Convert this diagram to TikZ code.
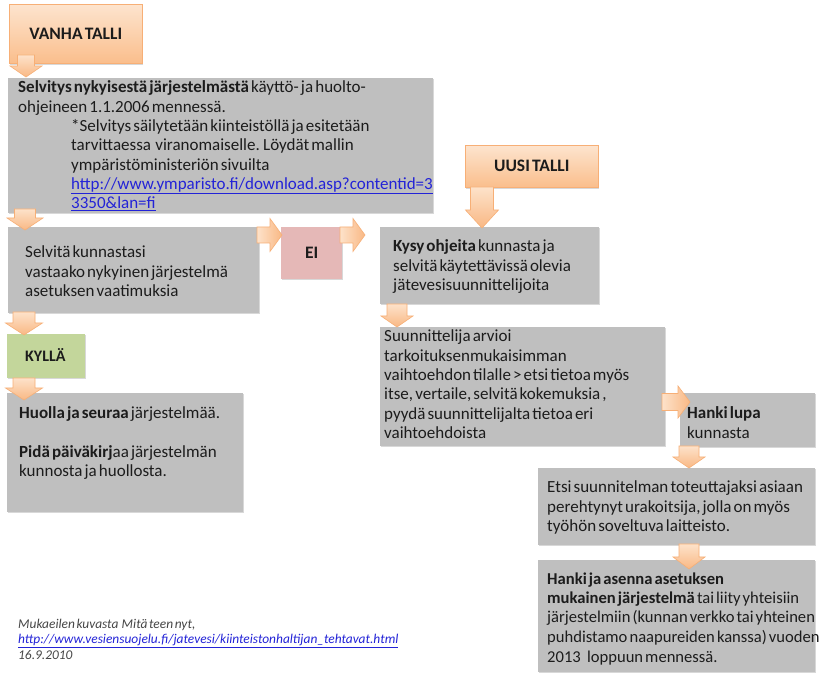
\documentclass[tikz,border=0pt]{standalone}
\usepackage{fontspec}
\setmainfont{Carlito}[WordSpace=0.55]
\usetikzlibrary{shadows,calc}
\definecolor{boxgray}{RGB}{191,191,191}
\definecolor{eipink}{RGB}{229,184,183}
\definecolor{kgreen}{RGB}{195,214,155}
\definecolor{orgtop}{RGB}{253,228,206}
\definecolor{orgbot}{RGB}{250,190,140}
\definecolor{orgline}{RGB}{247,175,118}
\definecolor{arrlight}{RGB}{253,226,202}
\definecolor{arrdark}{RGB}{249,184,132}
\definecolor{linkblue}{RGB}{35,35,215}
\definecolor{txtc}{RGB}{28,28,28}
\definecolor{footc}{RGB}{70,70,70}
\newcommand{\lnk}[1]{{\color{linkblue}\underline{#1}}}
\newcommand{\tb}[1]{\begin{minipage}[t]{420pt}\fontsize{17}{19.3}\selectfont\raggedright #1\end{minipage}}
\newcommand{\tbs}[1]{\begin{minipage}[t]{420pt}\fontsize{16.6}{19.5}\selectfont\raggedright #1\end{minipage}}
% down block arrow: name, cx, ytail, ytip, shaft width, head width, head length
\newcommand{\darrow}[7]{%
  \coordinate (#1) at (#2,#4);
  \draw[blockarr, top color=arrlight, bottom color=arrdark]
    (#2-#5/2,#3) -- (#2+#5/2,#3) -- (#2+#5/2,#4-#7) -- (#2+#6/2,#4-#7) -- (#1)
    -- (#2-#6/2,#4-#7) -- (#2-#5/2,#4-#7) -- cycle;}
% right block arrow: name, cy, xtail, xtip, shaft width, head width, head length
\newcommand{\rarrow}[7]{%
  \coordinate (#1) at (#4,#2);
  \draw[blockarr, left color=arrlight, right color=arrdark]
    (#3,#2-#5/2) -- (#3,#2+#5/2) -- (#4-#7,#2+#5/2) -- (#4-#7,#2+#6/2) -- (#1)
    -- (#4-#7,#2-#6/2) -- (#4-#7,#2-#5/2) -- cycle;}
\tikzset{
  gbox/.style={fill=boxgray, draw=none, anchor=north west, inner sep=0pt,
    drop shadow={shadow xshift=0.8pt, shadow yshift=-1.2pt, opacity=0.3}},
  callout/.style={top color=orgtop, bottom color=orgbot, draw=orgline, line width=0.6pt,
    anchor=north west, inner sep=0pt,
    drop shadow={shadow xshift=1pt, shadow yshift=-1.5pt, opacity=0.3}},
  tx/.style={anchor=base west, inner sep=0pt, text=txtc},
  lbl/.style={inner sep=0pt, text=txtc, font=\fontsize{17.5}{19}\selectfont\bfseries},
  blockarr/.style={draw=orgline, line width=0.6pt, line join=miter},
}
\begin{document}
\begin{tikzpicture}[x=1pt,y=-1pt]
\useasboundingbox[fill=white] (0,0) rectangle (823,676);

% boxes
\node[callout, minimum width=133, minimum height=59] (vanha) at (9,4) {};
\node[lbl] (vanhat) at (vanha.center) {VANHA TALLI};
\node[gbox, minimum width=425, minimum height=135] (b1) at (8,78) {};
\node[gbox, minimum width=251, minimum height=86] (b2) at (8,227) {};
\node[gbox, fill=eipink, minimum width=61, minimum height=52] (ei) at (281,227) {};
\node[lbl] (eit) at (ei.center) {EI};
\node[gbox, fill=kgreen, minimum width=78, minimum height=44] (kylla) at (7,334) {};
\node[lbl, anchor=base west, font=\fontsize{16}{19}\selectfont\bfseries] (kyllat) at (25,362) {KYLLÄ};
\node[gbox, minimum width=236, minimum height=119] (huolla) at (7,393) {};
\node[callout, minimum width=133, minimum height=42] (uusi) at (465,145) {};
\node[lbl] (uusit) at (uusi.center) {UUSI TALLI};
\node[gbox, minimum width=219, minimum height=77] (kysy) at (380,227) {};
\node[gbox, minimum width=285, minimum height=119] (suun) at (380,327) {};
\node[gbox, minimum width=135, minimum height=54] (lupa) at (680,393) {};
\node[gbox, minimum width=277, minimum height=77] (etsi) at (538,468) {};
\node[gbox, minimum width=277, minimum height=112] (asenna) at (538,560) {};

% texts
\node[tx] (b1t) at (18,93) {\tb{\textbf{Selvitys nykyisestä järjestelmästä} käyttö- ja huolto-\\
ohjeineen 1.1.2006 mennessä.\\
\hspace*{53pt}*Selvitys säilytetään kiinteistöllä ja esitetään\\
\hspace*{53pt}tarvittaessa\ \ viranomaiselle. Löydät mallin\\
\hspace*{53pt}ympäristöministeriön sivuilta\\
\hspace*{53pt}\lnk{http://www.ymparisto.fi/download.asp?contentid=3}\\
\hspace*{53pt}\lnk{3350\&lan=fi}}};
\node[tx] (b2t) at (25,258) {\tb{Selvitä kunnastasi\\ vastaako nykyinen järjestelmä\\ asetuksen vaatimuksia}};
\node[tx] (huollat) at (19,419) {\tb{\textbf{Huolla ja seuraa} järjestelmää.\\ \mbox{}\\
\textbf{Pidä päiväkirj}aa järjestelmän\\ kunnosta ja huollosta.}};
\node[tx] (kysyt) at (393,252) {\tb{\textbf{Kysy ohjeita} kunnasta ja\\ selvitä käytettävissä olevia\\ jätevesisuunnittelijoita}};
\node[tx] (suunt) at (384,342) {\tb{Suunnittelija arvioi\\ tarkoituksenmukaisimman\\ vaihtoehdon tilalle > etsi tietoa myös\\ itse, vertaile, selvitä kokemuksia ,\\ pyydä suunnittelijalta tietoa eri\\ vaihtoehdoista}};
\node[tx] (lupat) at (687,419) {\tb{\textbf{Hanki lupa}\\ kunnasta}};
\node[tx] (etsit) at (547,493) {\tb{Etsi suunnitelman toteuttajaksi asiaan\\ perehtynyt urakoitsija, jolla on myös\\ työhön soveltuva laitteisto.}};
\node[tx] (asennat) at (547,584) {\tbs{\textbf{Hanki ja asenna asetuksen}\\ \textbf{mukainen järjestelmä} tai liity yhteisiin\\ järjestelmiin (kunnan verkko tai yhteinen\\ puhdistamo naapureiden kanssa) vuoden\\ 2013\ \ \ loppuun mennessä.}};

% footer
\node[anchor=base west, inner sep=0pt, text=footc] (foot) at (18,628) {\begin{minipage}[t]{420pt}\fontsize{13.4}{15.5}\selectfont\itshape Mukaeilen kuvasta\ \ Mitä teen nyt,\\ \lnk{http://www.vesiensuojelu.fi/jatevesi/kiinteistonhaltijan\_tehtavat.html}\\ 16.9.2010\end{minipage}};

% block arrows
\darrow{a0}{26}{55}{77}{17}{32}{11}
\darrow{a1}{25}{209}{230}{21}{36}{12}
\darrow{a2}{24}{312}{335}{22}{37}{12}
\darrow{a3}{24}{378}{400}{22}{37}{12}
\rarrow{a4}{235}{257}{282}{16}{33}{12}
\rarrow{a5}{235}{340}{365}{16}{33}{12}
\darrow{a6}{482}{187}{228}{23}{33}{18}
\darrow{a7}{397}{304}{327}{20}{32}{11}
\rarrow{a8}{402}{662}{690}{17}{32}{12}
\darrow{a9}{689}{446}{468}{20}{32}{11}
\darrow{a10}{689}{544}{569}{20}{32}{12}
\end{tikzpicture}
\end{document}
